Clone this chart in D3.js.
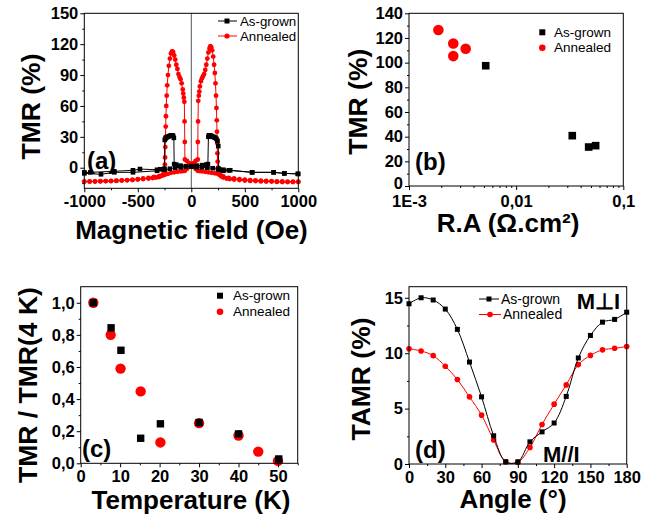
<!DOCTYPE html>
<html><head><meta charset="utf-8">
<script src="https://cdn.jsdelivr.net/npm/d3@7"></script>
<style>
body{margin:0;background:#fff;}
svg{display:block;}
</style></head><body>
<svg id="c" width="660" height="523"></svg>
<script>
// ---------------- DATA ----------------
const seriesNames = ["As-grown", "Annealed"];

// (a) TMR vs magnetic field, full sweep order (+1000 -> -1000 -> +1000)
const aAsGrownH = [1000,870,770,570,350,300,250,200,150,100,50,0,-50,-100,-140,-160,
  -163,-170,-180,-190,-200,-210,-220,-230,-240,-248,-252,-260,-290,-320,-480,-545,-720,-944,-1000,
  -1000,-844,-720,-545,-320,-250,-200,-150,-100,-50,0,50,100,140,155,
  160,165,175,185,195,205,215,225,235,245,252,256,270,300,364,567,769,869,994];
const aAsGrownTMR = [-6,-5.5,-4.5,-4.5,-2.5,-2,-1.5,-0.5,0,0.5,0.5,1,1.5,2,3,3.5,
  29,31,31.5,31.5,31,30.5,30,29.5,28.5,27,-1,-1.5,-1.5,-2,-1.3,-2.5,-3.5,-4.5,-4.5,
  -5.5,-6.4,-4.5,-4.5,-3,-2,-1,0,0.5,1,1.5,2,2.5,3,3.5,
  30,31.5,31.5,31,30.5,30,29.5,29,28,26,21,-1,-2,-3,-2.5,-4.5,-4.5,-5.5,-6];

const aAnnealedH = [1000,950,900,850,800,750,700,650,600,550,500,450,400,350,300,270,250,220,190,160,130,100,80,60,40,20,0,-20,-40,-60,
  -61,-63,-65,-70,-75,-80,-90,-100,-110,-120,-130,-140,-150,-160,-170,-180,-190,-200,-210,-218,-225,-230,-234,-237,-239,-241,-243,-245,-247,-250,
  -255,-265,-280,-300,-330,-360,-400,-450,-500,-550,-600,-650,-700,-750,-800,-850,-900,-950,-1000,
  -1000,-950,-900,-850,-800,-750,-700,-650,-600,-550,-500,-450,-400,-350,-300,-270,-250,-220,-190,-160,-130,-100,-80,-60,-40,-20,0,20,40,60,
  61,63,65,70,75,80,90,100,110,120,130,140,150,160,170,178,186,195,205,213,220,226,231,235,238,240,242,244,246,249,
  255,265,280,300,330,360,400,450,500,550,600,650,700,750,800,850,900,950,1000];
const aAnnealedTMR = [-13.5,-13.5,-13.5,-13.3,-13.2,-13,-12.8,-12.5,-12.3,-12,-11.5,-11,-10.5,-9.8,-8.5,-7,-6,-5.5,-5,-4.5,-4,-3.5,-3.2,-3,-1,1,2.8,4.5,6.5,8,
  25,45,64,68,72,76,82,86,88,91,96,100,105,109,112.5,113,111,106,99,90,80,70,60,50,40,30,20,10,3,-2,
  -5,-7,-8,-9,-9.5,-10,-10.5,-11,-11.5,-12,-12.3,-12.5,-12.8,-13,-13,-13.3,-13.5,-13.5,-13.5,
  -13.5,-13.3,-13.2,-13,-13,-12.8,-12.5,-12.3,-12,-11.5,-11,-10.5,-10,-9,-8.3,-7.5,-7,-6,-5,-4.5,-4,-3.5,-3.2,-3,-1,1,2.8,4.5,6.5,8,
  25,45,65,70,74,79,84,87,89,91,95,100,106,112,116,118,117,114,108,100,92,82,70,58,46,35,24,14,6,0,
  -4,-7,-8.5,-9.5,-10.5,-11,-11.5,-12,-12.5,-12.8,-13,-13.3,-13.5,-13.5,-13.8,-14,-14,-14,-14];
const aXTicks = [-1000,-500,0,500,1000];
const aXLabels = ["-1000","-500","0","500","1000"];
const aXMinor = [-750,-250,250,750];
const aYTicks = [0,30,60,90,120,150];
const aYLabels = ["0","30","60","90","120","150"];
const aYMinor = [-15,15,45,75,105,135];

// (b) TMR vs R.A
const bAsGrownRA = [0.0052,0.0334,0.0475,0.0552];
const bAsGrownTMR = [97.5,40.8,31.6,32.7];
const bAnnealedRA = [0.00188,0.00259,0.00259,0.00338];
const bAnnealedTMR = [126.5,115.5,105.3,111.3];
const bXTicks = [0.001,0.01,0.1];
const bXLabels = ["1E-3","0,01","0,1"];
const bXMinor = [0.002,0.003,0.004,0.005,0.006,0.007,0.008,0.009,0.02,0.03,0.04,0.05,0.06,0.07,0.08,0.09];
const bYTicks = [0,20,40,60,80,100,120,140];
const bYLabels = ["0","20","40","60","80","100","120","140"];
const bYMinor = [10,30,50,70,90,110,130];

// (c) normalized TMR vs temperature
const cAsGrownT = [3.2,7.7,10.2,15.2,20.2,30,40,50.2];
const cAsGrownR = [1.0,0.844,0.704,0.156,0.246,0.254,0.183,0.027];
const cAnnealedT = [3.2,7.6,10.1,15.2,20.2,30,40,45,50];
const cAnnealedR = [1.0,0.80,0.59,0.448,0.13,0.25,0.173,0.073,0.015];
const cXTicks = [0,10,20,30,40,50];
const cXLabels = ["0","10","20","30","40","50"];
const cXMinor = [5,15,25,35,45,55];
const cYTicks = [0,0.2,0.4,0.6,0.8,1.0];
const cYLabels = ["0,0","0,2","0,4","0,6","0,8","1,0"];
const cYMinor = [0.1,0.3,0.5,0.7,0.9];

// (d) TAMR vs angle
const dAngles = [0,10,20,30,40,50,60,70,80,90,100,110,120,130,140,150,160,170,180];
const dAsGrown = [14.46,15.0,14.8,13.98,12.15,9.2,6.06,2.55,0.2,0.2,2.0,2.9,3.7,6.1,9.57,11.6,12.8,13.05,13.7];
const dAnnealed = [10.4,10.2,9.78,8.82,7.62,6.06,4.41,2.16,0.2,0.15,1.5,3.57,5.4,7.14,8.97,9.8,10.3,10.44,10.6];
const dXTicks = [0,30,60,90,120,150,180];
const dXLabels = ["0","30","60","90","120","150","180"];
const dXMinor = [15,45,75,105,135,165];
const dYTicks = [0,5,10,15];
const dYLabels = ["0","5","10","15"];
const dYMinor = [2.5,7.5,12.5];

// ---------------- DRAWING ----------------
const FONT = '"Liberation Sans", Arial, Helvetica, sans-serif';
const RED = "#ff0000";
const svg = d3.select("#c").style("font-family", FONT);

function makePanel(p) {
  const g = svg.append("g").attr("transform", `translate(${p.left},${p.top})`);
  const w = p.right - p.left, h = p.bottom - p.top;
  const x = (p.xLog ? d3.scaleLog() : d3.scaleLinear()).domain(p.xDomain).range([0, w]);
  const y = d3.scaleLinear().domain(p.yDomain).range([h, 0]);
  return {g, x, y, w, h, p};
}

function axes(P, o) {
  const {g, x, y, w, h} = P;
  const xa = g.append("g").attr("transform", `translate(0,${h})`)
    .call(d3.axisBottom(x).tickValues(o.xTicks).tickFormat((d, i) => o.xLabels[i]).tickSize(4).tickSizeOuter(0).tickPadding(o.xPad || 3));
  const xm = g.append("g").attr("transform", `translate(0,${h})`)
    .call(d3.axisBottom(x).tickValues(o.xMinor).tickFormat("").tickSize(2).tickSizeOuter(0));
  const ya = g.append("g")
    .call(d3.axisLeft(y).tickValues(o.yTicks).tickFormat((d, i) => o.yLabels[i]).tickSize(4).tickSizeOuter(0).tickPadding(2));
  const ym = g.append("g")
    .call(d3.axisLeft(y).tickValues(o.yMinor).tickFormat("").tickSize(2).tickSizeOuter(0));
  [xa, xm, ya, ym].forEach(s => {
    s.attr("font-family", null).attr("font-size", null);
    s.select(".domain").remove();
    s.selectAll("line").attr("stroke", "#000").attr("stroke-width", 1);
    s.selectAll("text").attr("fill", "#000").style("font-family", FONT)
      .style("font-size", "16.5px").style("font-weight", "bold");
  });
  if (o.lowZeroNudge) {
    ya.selectAll(".tick").filter(d => d === o.yTicks[0]).select("text").attr("dy", "0.18em");
  }
  g.append("rect").attr("width", w).attr("height", h)
    .attr("fill", "none").attr("stroke", "#000").attr("stroke-width", 1);
}

function titles(P, xt, yt) {
  svg.append("text").attr("x", xt.cx).attr("y", xt.by).attr("text-anchor", "middle")
    .style("font-size", "26px").style("font-weight", "bold").text(xt.text);
  svg.append("text").attr("transform", `translate(${yt.bx},${yt.cy}) rotate(-90)`)
    .attr("text-anchor", "middle")
    .style("font-size", "26.5px").style("font-weight", "bold").text(yt.text);
}

function label(txt, x, y, size) {
  svg.append("text").attr("x", x).attr("y", y)
    .style("font-size", (size || 24) + "px").style("font-weight", "bold").text(txt);
}

function squares(g, xs, ys, sx, sy, s) {
  g.append("g").selectAll("rect").data(xs.map((d, i) => [d, ys[i]])).join("rect")
    .attr("x", d => sx(d[0]) - s / 2).attr("y", d => sy(d[1]) - s / 2)
    .attr("width", s).attr("height", s).attr("fill", "#000");
}
function circles(g, xs, ys, sx, sy, r) {
  g.append("g").selectAll("circle").data(xs.map((d, i) => [d, ys[i]])).join("circle")
    .attr("cx", d => sx(d[0])).attr("cy", d => sy(d[1])).attr("r", r).attr("fill", RED);
}
function line(g, xs, ys, sx, sy, color, curve) {
  const ln = d3.line().x(d => sx(d[0])).y(d => sy(d[1]));
  if (curve) ln.curve(curve);
  g.append("path").datum(xs.map((d, i) => [d, ys[i]])).attr("d", ln)
    .attr("fill", "none").attr("stroke", color).attr("stroke-width", 1);
}

// ---- Panel (a)
{
  const P = makePanel({left: 84.3, right: 298.3, top: 13.3, bottom: 188.3, xDomain: [-1000, 1000], yDomain: [-20, 150]});
  const {g, x, y, h} = P;
  g.append("line").attr("x1", x(0)).attr("x2", x(0)).attr("y1", 0).attr("y2", h)
    .attr("stroke", "#555").attr("stroke-width", 1);
  line(g, aAnnealedH, aAnnealedTMR, x, y, RED);
  circles(g, aAnnealedH, aAnnealedTMR, x, y, 2.4);
  line(g, aAsGrownH, aAsGrownTMR, x, y, "#000");
  squares(g, aAsGrownH, aAsGrownTMR, x, y, 4.6);
  axes(P, {xTicks: aXTicks, xLabels: aXLabels, xMinor: aXMinor, yTicks: aYTicks, yLabels: aYLabels, yMinor: aYMinor});
  const L = svg.append("g");
  L.append("line").attr("x1", 218).attr("x2", 237).attr("y1", 21).attr("y2", 21).attr("stroke", "#000");
  L.append("rect").attr("x", 224.5).attr("y", 18.5).attr("width", 5).attr("height", 5).attr("fill", "#000");
  L.append("text").attr("x", 240).attr("y", 25.5).style("font-size", "13.3px").text(seriesNames[0]);
  L.append("line").attr("x1", 218).attr("x2", 237).attr("y1", 36).attr("y2", 36).attr("stroke", RED);
  L.append("circle").attr("cx", 227).attr("cy", 36).attr("r", 2.6).attr("fill", RED);
  L.append("text").attr("x", 240).attr("y", 40.5).style("font-size", "13.3px").text(seriesNames[1]);
  label("(a)", 87, 168.5);
  titles(P, {text: "Magnetic field (Oe)", cx: 191.5, by: 239}, {text: "TMR (%)", bx: 40, cy: 106.5});
}

// ---- Panel (b)
{
  const P = makePanel({left: 409, right: 623.3, top: 13.3, bottom: 186, xLog: true, xDomain: [0.001, 0.1], yDomain: [0, 140]});
  const {g, x, y} = P;
  circles(g, bAnnealedRA, bAnnealedTMR, x, y, 5.3);
  squares(g, bAsGrownRA, bAsGrownTMR, x, y, 7.6);
  axes(P, {xTicks: bXTicks, xLabels: bXLabels, xMinor: bXMinor, yTicks: bYTicks, yLabels: bYLabels, yMinor: bYMinor, xPad: 5, lowZeroNudge: true});
  const L = svg.append("g");
  L.append("rect").attr("x", 539.3).attr("y", 29.3).attr("width", 6).attr("height", 6).attr("fill", "#000");
  L.append("text").attr("x", 554).attr("y", 36.5).style("font-size", "13.5px").text(seriesNames[0]);
  L.append("circle").attr("cx", 542.3).attr("cy", 47.7).attr("r", 3.3).attr("fill", RED);
  L.append("text").attr("x", 554).attr("y", 51.5).style("font-size", "13.5px").text(seriesNames[1]);
  label("(b)", 415, 170);
  titles(P, {text: "R.A (Ω.cm²)", cx: 508, by: 232}, {text: "TMR (%)", bx: 367, cy: 101.7});
}

// ---- Panel (c)
{
  const P = makePanel({left: 80.7, right: 297.7, top: 286.7, bottom: 463.3, xDomain: [0, 55], yDomain: [0, 1.1]});
  const {g, x, y} = P;
  circles(g, cAnnealedT, cAnnealedR, x, y, 5.2);
  squares(g, cAsGrownT, cAsGrownR, x, y, 7.4);
  axes(P, {xTicks: cXTicks, xLabels: cXLabels, xMinor: cXMinor, yTicks: cYTicks, yLabels: cYLabels, yMinor: cYMinor});
  const L = svg.append("g");
  L.append("rect").attr("x", 217).attr("y", 292.7).attr("width", 6).attr("height", 6).attr("fill", "#000");
  L.append("text").attr("x", 233).attr("y", 300).style("font-size", "13.5px").text(seriesNames[0]);
  L.append("circle").attr("cx", 220).attr("cy", 311.7).attr("r", 3.3).attr("fill", RED);
  L.append("text").attr("x", 233).attr("y", 316).style("font-size", "13.5px").text(seriesNames[1]);
  label("(c)", 82, 456.7);
  titles(P, {text: "Temperature (K)", cx: 191, by: 509}, {text: "TMR / TMR(4 K)", bx: 37, cy: 385});
}

// ---- Panel (d)
{
  const P = makePanel({left: 409, right: 626.7, top: 286.7, bottom: 464, xDomain: [0, 180], yDomain: [0, 16]});
  const {g, x, y} = P;
  line(g, dAngles, dAnnealed, x, y, RED, d3.curveCatmullRom);
  circles(g, dAngles, dAnnealed, x, y, 2.8);
  line(g, dAngles, dAsGrown, x, y, "#000", d3.curveCatmullRom);
  squares(g, dAngles, dAsGrown, x, y, 5);
  axes(P, {xTicks: dXTicks, xLabels: dXLabels, xMinor: dXMinor, yTicks: dYTicks, yLabels: dYLabels, yMinor: dYMinor});
  const L = svg.append("g");
  L.append("line").attr("x1", 479).attr("x2", 499).attr("y1", 299).attr("y2", 299).attr("stroke", "#000");
  L.append("rect").attr("x", 486.5).attr("y", 296.5).attr("width", 5).attr("height", 5).attr("fill", "#000");
  L.append("text").attr("x", 501).attr("y", 303.5).style("font-size", "14px").text(seriesNames[0]);
  L.append("line").attr("x1", 479).attr("x2", 501).attr("y1", 314.5).attr("y2", 314.5).attr("stroke", RED);
  L.append("circle").attr("cx", 490).attr("cy", 314.5).attr("r", 2.8).attr("fill", RED);
  L.append("text").attr("x", 503).attr("y", 319).style("font-size", "14px").text(seriesNames[1]);
  label("(d)", 415, 458.3);
  label("M\u22A5I", 576.7, 309.3, 22);
  label("M//I", 543, 462, 22);
  titles(P, {text: "Angle (°)", cx: 513, by: 508}, {text: "TAMR (%)", bx: 370, cy: 379});
}
</script>
</body></html>
